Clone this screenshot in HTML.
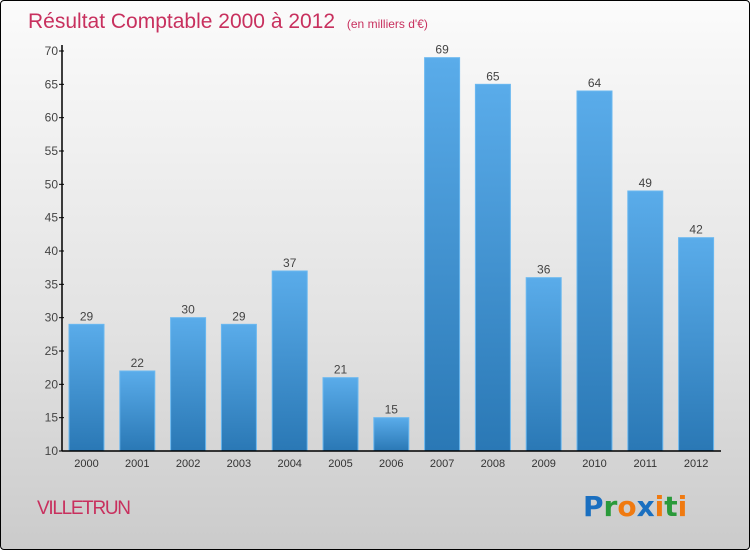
<!DOCTYPE html>
<html><head><meta charset="utf-8"><style>
body{margin:0;width:750px;height:550px;overflow:hidden;font-family:"Liberation Sans",sans-serif}
#frame{position:absolute;left:0;top:0;width:748px;height:548px;border:1px solid #000;border-radius:4px;background:linear-gradient(#fbfbfb,#e2e2e2 60%,#cbcbcb)}
</style></head><body>
<div id="frame">
<svg width="750" height="550">
<defs>
<linearGradient id="bg" x1="0" y1="0" x2="0" y2="1"><stop offset="0" stop-color="#5aacea"/><stop offset="1" stop-color="#2a78b5"/></linearGradient>
</defs>
<text x="27" y="27" font-size="21" fill="#c8305e">Résultat Comptable 2000 à 2012 <tspan font-size="12" dx="6">(en milliers d'€)</tspan></text>
<g id="yaxis"></g>
<g id="bars"></g>
<g id="xaxis"></g>
<text x="36" y="513" font-size="19" fill="#c8305e" textLength="94">VILLETRUN</text>
<text x="582" y="515" font-size="28" font-weight="bold" font-family="'DejaVu Sans',sans-serif"><tspan fill="#1a6fc0">P</tspan><tspan fill="#2a9a3a">r</tspan><tspan fill="#f07a10">o</tspan><tspan fill="#1a6fc0">x</tspan><tspan fill="#f07a10">i</tspan><tspan fill="#2a9a3a">t</tspan><tspan fill="#f07a10">i</tspan></text>
</svg></div>
<script>
const categories=["2000","2001","2002","2003","2004","2005","2006","2007","2008","2009","2010","2011","2012"];
const values=[29,22,30,29,37,21,15,69,65,36,64,49,42];
const yTicks=[10,15,20,25,30,35,40,45,50,55,60,65,70];
const NS="http://www.w3.org/2000/svg";
const y0=450,y1=50,vmin=10,vmax=70,xl=61,xr=720,step=50.8,bw=35,x0=68;
const Y=v=>y0-(v-vmin)/(vmax-vmin)*(y0-y1);
const X=i=>x0+i*step;
function mk(t,a,p){const e=document.createElementNS(NS,t);for(const k in a)e.setAttribute(k,a[k]);p.appendChild(e);return e;}
const ya=document.getElementById('yaxis'),ba=document.getElementById('bars'),xa=document.getElementById('xaxis');
mk('line',{x1:xl,y1:y1-6,x2:xl,y2:y0,stroke:'#000','stroke-width':1.5},ya);
yTicks.forEach(t=>{
 mk('line',{x1:xl-3,y1:Y(t),x2:xl+2,y2:Y(t),stroke:'#000'},ya);
 const tx=mk('text',{x:xl-4,y:Y(t)+4,'font-size':12,fill:'#444','text-anchor':'end'},ya);
 
 
 tx.textContent=t;
});
values.forEach((v,i)=>{
 const r=mk('rect',{x:X(i),y:Y(v),width:bw,height:y0-Y(v),fill:'url(#bg)',stroke:'#6ab8f0','stroke-width':1},ba);
 
 
 const t=mk('text',{x:X(i)+bw/2,y:Y(v)-4,'font-size':12,fill:'#444','text-anchor':'middle'},ba);
 
 
 t.textContent=v;
 const c=mk('text',{x:X(i)+bw/2,y:y0+16,'font-size':11,fill:'#333','text-anchor':'middle'},xa);
 
 
 c.textContent=categories[i];
});
mk('line',{x1:xl,y1:y0,x2:xr,y2:y0,stroke:'#000','stroke-width':1.5},xa);
</script>
</body></html>
